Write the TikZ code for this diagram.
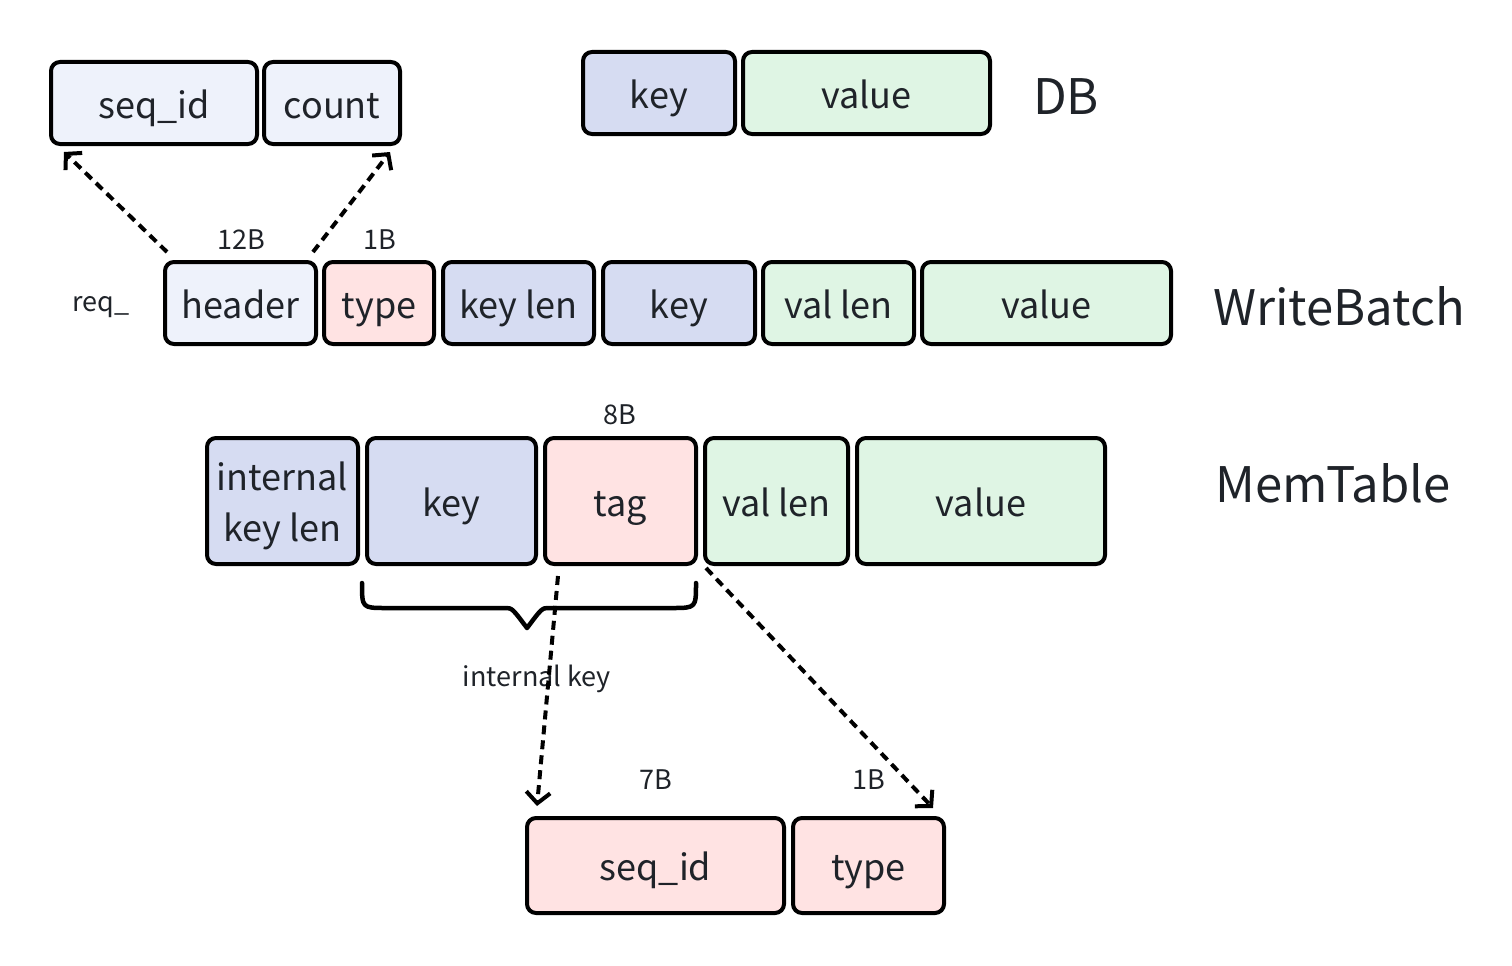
\documentclass[tikz,border=0pt]{standalone}
\usepackage{fontspec}
\setmainfont{Noto Sans CJK SC}
\usetikzlibrary{arrows.meta,calc}
\definecolor{txt}{HTML}{1F2329}
\definecolor{hdrfill}{HTML}{EEF2FB}
\definecolor{keyfill}{HTML}{D6DCF2}
\definecolor{valfill}{HTML}{DFF5E4}
\definecolor{tagfill}{HTML}{FFE3E3}
\tikzset{
  field/.style={draw=black, line width=4pt, rounded corners=9pt, inner sep=0pt,
    text=txt, font=\fontsize{36}{51}\selectfont, text height=33pt, text depth=3pt},
  fieldtext/.style={text=txt, font=\fontsize{36}{51}\selectfont, align=center, inner sep=0pt},
  small/.style={text=txt, font=\fontsize{27}{32}\selectfont, inner sep=0pt},
  title/.style={text=txt, font=\fontsize{49}{58}\selectfont, inner sep=0pt},
  dasharrow/.style={draw=black, line width=4pt, dash pattern=on 9pt off 6pt,
    -{Straight Barb[length=11pt,width=24pt,line width=4pt]}},
}
\begin{document}
\begin{tikzpicture}[x=1pt,y=-1pt]
\useasboundingbox[fill=white] (0,0) rectangle (1512,966);

% top header fields
\node[field, fill=hdrfill, minimum width=206pt, minimum height=82pt] (hseq) at (154,103) {seq\_id};
\node[field, fill=hdrfill, minimum width=136pt, minimum height=82pt] (hcount) at (332,103) {count};

% DB
\node[field, fill=keyfill, minimum width=152pt, minimum height=82pt] (dbkey) at (659,93) {key};
\node[field, fill=valfill, minimum width=247pt, minimum height=82pt] (dbval) at (866.5,93) {value};
\node[title] (dbt) at (1066,97) {DB};

% WriteBatch
\node[small, anchor=base] (req) at (101,311) {req\_};
\node[field, fill=hdrfill, minimum width=151pt, minimum height=82pt] (wbhdr) at (240.5,303) {header};
\node[field, fill=tagfill, minimum width=110pt, minimum height=82pt] (wbtype) at (379,303) {type};
\node[field, fill=keyfill, minimum width=151pt, minimum height=82pt] (wbklen) at (518.5,303) {key len};
\node[field, fill=keyfill, minimum width=152pt, minimum height=82pt] (wbkey) at (679,303) {key};
\node[field, fill=valfill, minimum width=151pt, minimum height=82pt] (wbvlen) at (838.5,303) {val len};
\node[field, fill=valfill, minimum width=249pt, minimum height=82pt] (wbval) at (1046.5,303) {value};
\node[title] (wbt) at (1339,306) {WriteBatch};
\node[small] (l12) at (241,240) {12B};
\node[small] (l1a) at (380,240) {1B};

% MemTable
\node[field, fill=keyfill, minimum width=151pt, minimum height=126pt] (mtikl) at (282.5,501) {};
\node[fieldtext] (mtikltext) at (282.5,506) {internal\\key len};
\node[field, fill=keyfill, minimum width=169pt, minimum height=126pt] (mtkey) at (451.5,501) {key};
\node[field, fill=tagfill, minimum width=151pt, minimum height=126pt] (mttag) at (620.5,501) {tag};
\node[field, fill=valfill, minimum width=143pt, minimum height=126pt] (mtvlen) at (776.5,501) {val len};
\node[field, fill=valfill, minimum width=248pt, minimum height=126pt] (mtval) at (981,501) {value};
\node[title] (mtt) at (1333,483) {MemTable};
\node[small] (l8) at (620,415) {8B};

% bottom tag fields
\node[field, fill=tagfill, minimum width=257pt, minimum height=95pt] (bseq) at (655.5,865.5) {seq\_id};
\node[field, fill=tagfill, minimum width=151pt, minimum height=95pt] (btype) at (868.5,865.5) {type};
\node[small] (l7) at (656,780) {7B};
\node[small] (l1b) at (869,780) {1B};

% brace
\draw[line width=4.5pt, line join=round, line cap=round]
  ($(mtkey.south west)+(-3,17)$) .. controls ($(mtkey.south west)+(-3,42)$) .. ($(mtkey.south west)+(21,42)$)
  -- (505,608) .. controls (512,608) .. (527,628) .. controls (542,608) .. (549,608)
  -- ($(mttag.south east)+(-26,42)$) .. controls ($(mttag.south east)+(-2,42)$) .. ($(mttag.south east)+(-2,17)$);
\node[small, anchor=base] (ik) at (537,686) {internal key};

% arrows
\draw[dasharrow] ($(wbhdr.north west)+(4,-8)$) -- ($(hseq.south west)+(15,6)$);
\draw[dasharrow] ($(wbhdr.north east)+(-5,-8)$) -- ($(hcount.south east)+(-12,6)$);
\draw[dasharrow] ($(mttag.south west)+(15,10)$) -- ($(bseq.north west)+(12,-10)$);
\draw[dasharrow] ($(mtvlen.south west)+(3,2)$) -- ($(btype.north east)+(-13,-8)$);
\end{tikzpicture}
\end{document}
